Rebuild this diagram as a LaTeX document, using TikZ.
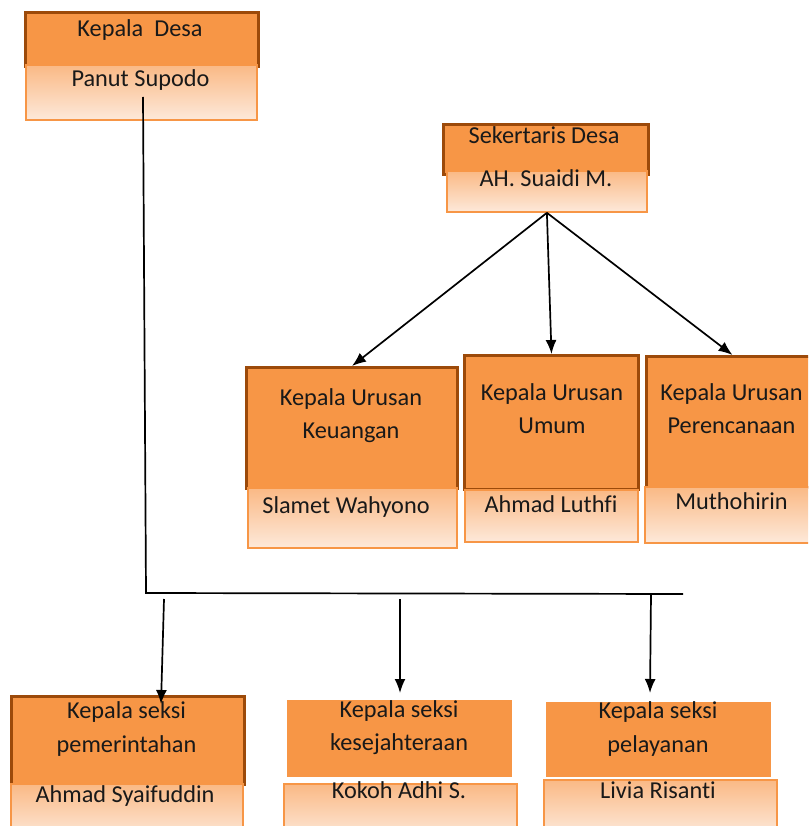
\documentclass[tikz,border=0pt]{standalone}
\usepackage{fontspec}
\setmainfont{Carlito}[Ligatures=CommonOff]
\usetikzlibrary{arrows.meta}
\definecolor{orgfill}{HTML}{F79646}
\definecolor{orgbrown}{HTML}{9C4A0A}
\definecolor{orglight}{HTML}{FAB985}
\definecolor{orgpale}{HTML}{FDE9DA}
\tikzset{
  topbox/.style={fill=orgfill, draw=orgbrown, line width=3pt, inner sep=0pt, anchor=north west},
  flatbox/.style={fill=orgfill, draw=none, inner sep=0pt, anchor=north west},
  botbox/.style={top color=orglight, bottom color=orgpale, draw=orgfill, line width=1.8pt, inner sep=0pt, anchor=north west},
  lbl/.style={font=\fontsize{24.3}{28}\selectfont, inner sep=0pt, anchor=base, text=black!90},
  conn/.style={draw=black, line width=1.7pt},
  arr/.style={conn, -{Latex[length=14pt,width=11pt]}}
}
\begin{document}
\begin{tikzpicture}[x=1pt,y=-1pt]
\useasboundingbox (0,0) rectangle (808,826);
\clip (0,0) rectangle (808,826);
\fill[white] (0,0) rectangle (808,826);

% Kepala Desa
\node[topbox, minimum width=233pt, minimum height=54pt] (kd1) at (24,11) {};
\node[botbox, minimum width=231pt, minimum height=55pt] (kd2) at (25,64) {};
\node[lbl] (kdt) at (140,37) {Kepala\ \ Desa};
\node[lbl] (kdn) at (140.5,87) {Panut Supodo};

% Sekertaris Desa
\node[topbox, minimum width=205pt, minimum height=50pt] (sd1) at (442,123) {};
\node[botbox, minimum width=200pt, minimum height=41pt] (sd2) at (446,170) {};
\node[lbl] (sdt) at (544,144) {Sekertaris Desa};
\node[lbl] (sdn) at (546,187) {AH. Suaidi M.};

% Kepala Urusan Keuangan
\node[topbox, minimum width=211pt, minimum height=121pt] (ku1) at (245,366) {};
\node[botbox, minimum width=209pt, minimum height=60pt] (ku2) at (247,487) {};
\node[lbl] (kuta) at (351,405) {Kepala Urusan};
\node[lbl] (kutb) at (351,438) {Keuangan};
\node[lbl] (kun) at (346,513) {Slamet Wahyono};

% Kepala Urusan Umum
\node[topbox, minimum width=174pt, minimum height=134pt] (um1) at (463,354) {};
\node[botbox, minimum width=173pt, minimum height=52pt] (um2) at (464,489) {};
\node[lbl] (umta) at (552,400) {Kepala Urusan};
\node[lbl] (umtb) at (552,433) {Umum};
\node[lbl] (umn) at (551,512) {Ahmad Luthfi};

% Kepala Urusan Perencanaan
\node[topbox, minimum width=172pt, minimum height=131pt] (pr1) at (645,355) {};
\node[botbox, minimum width=172pt, minimum height=56pt] (pr2) at (644,486) {};
\node[lbl] (prta) at (731.5,400) {Kepala Urusan};
\node[lbl] (prtb) at (731.5,433) {Perencanaan};
\node[lbl] (prn) at (731.5,509) {Muthohirin};

% Kepala seksi pemerintahan
\node[topbox, minimum width=233pt, minimum height=88pt] (pm1) at (10,695) {};
\node[botbox, minimum width=232pt, minimum height=55pt] (pm2) at (10,783) {};
\node[lbl] (pmta) at (126.5,718) {Kepala seksi};
\node[lbl] (pmtb) at (126.5,752) {pemerintahan};
\node[lbl] (pmn) at (125,802) {Ahmad Syaifuddin};

% Kepala seksi kesejahteraan
\node[flatbox, minimum width=225pt, minimum height=77pt] (ks1) at (287,700) {};
\node[botbox, minimum width=233pt, minimum height=55pt] (ks2) at (283,783) {};
\node[lbl] (ksta) at (399,717) {Kepala seksi};
\node[lbl] (kstb) at (399,750) {kesejahteraan};
\node[lbl] (ksn) at (399,798) {Kokoh Adhi S.};

% Kepala seksi pelayanan
\node[flatbox, minimum width=225pt, minimum height=75pt] (pl1) at (546,702) {};
\node[botbox, minimum width=233pt, minimum height=55pt] (pl2) at (543,779) {};
\node[lbl] (plta) at (658,718) {Kepala seksi};
\node[lbl] (pltb) at (658,752) {pelayanan};
\node[lbl] (pln) at (658,798) {Livia Risanti};

% connectors from Sekertaris Desa
\draw[arr] (sd2.south) -- (ku1.north);
\draw[arr] (sd2.south) -- (um1.north);
\draw[arr] (sd2.south) -- (pr1.north);

% connectors from Kepala Desa
\coordinate (kdl) at (143,97);
\coordinate (corner) at (146,593);
\coordinate (hend) at (683,594);
\draw[conn] (kdl) -- (corner) -- (hend);
\coordinate (d1) at (164,599);
\coordinate (d2) at (400,599);
\coordinate (d3) at (651,594);
\coordinate (t1) at (161,704);
\coordinate (t2) at (400,693);
\coordinate (t3) at (650,693);
\draw[arr] (d1) -- (t1);
\draw[arr] (d2) -- (t2);
\draw[arr] (d3) -- (t3);
\end{tikzpicture}
\end{document}
